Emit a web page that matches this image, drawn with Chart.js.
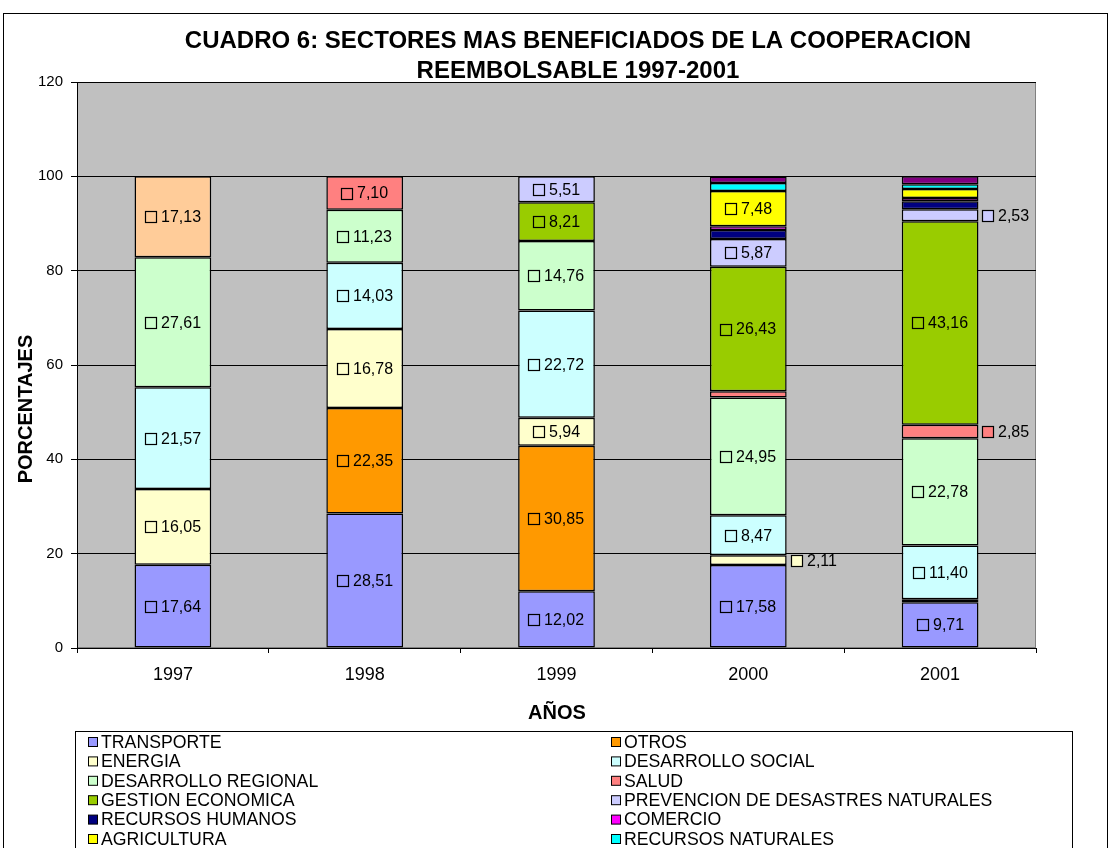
<!DOCTYPE html>
<html>
<head>
<meta charset="utf-8">
<script src="https://cdn.jsdelivr.net/npm/chart.js@4.4.1/dist/chart.umd.min.js"></script>
<style>
html,body{margin:0;padding:0;background:#fff;}
#wrap{width:1110px;height:848px;position:relative;}
</style>
</head>
<body>
<div id="wrap"><canvas id="c" width="1110" height="848"></canvas></div>
<script>
const categories = ['1997', '1998', '1999', '2000', '2001'];
const yTicks = [0, 20, 40, 60, 80, 100, 120];
const titleLines = ['CUADRO 6: SECTORES MAS BENEFICIADOS DE LA COOPERACION', 'REEMBOLSABLE 1997-2001'];
const yTitle = 'PORCENTAJES';
const xTitle = 'AÑOS';

const seriesNames = ['TRANSPORTE', 'OTROS', 'ENERGIA', 'DESARROLLO SOCIAL', 'DESARROLLO REGIONAL', 'SALUD',
  'GESTION ECONOMICA', 'PREVENCION DE DESASTRES NATURALES', 'RECURSOS HUMANOS', 'COMERCIO', 'AGRICULTURA',
  'RECURSOS NATURALES', '', ''];
const transporte = [17.64, 28.51, 12.02, 17.58, 9.71];
const otros = [null, 22.35, 30.85, null, null];
const energia = [16.05, 16.78, 5.94, 2.11, 0.6];
const desarrolloSocial = [21.57, 14.03, 22.72, 8.47, 11.40];
const desarrolloRegional = [27.61, 11.23, 14.76, 24.95, 22.78];
const salud = [null, 7.10, null, 1.3, 2.85];
const gestionEconomica = [null, null, 8.21, 26.43, 43.16];
const prevencion = [null, null, 5.51, 5.87, 2.53];
const recursosHumanos = [null, null, null, 1.9, 1.7];
const comercio = [null, null, null, 0.8, 0.7];
const agricultura = [null, null, null, 7.48, 1.9];
const recursosNaturales = [null, null, null, 1.7, 1.0];
const serieMorada = [null, null, null, 1.4, 1.67];
const serieMelocoton = [17.13, null, null, null, null];

const seriesValues = [transporte, otros, energia, desarrolloSocial, desarrolloRegional, salud, gestionEconomica,
  prevencion, recursosHumanos, comercio, agricultura, recursosNaturales, serieMorada, serieMelocoton];
const seriesColors = ['#9999FF', '#FF9900', '#FFFFCC', '#CCFFFF', '#CCFFCC', '#FF8080', '#99CC00',
  '#CCCCFF', '#000080', '#FF00FF', '#FFFF00', '#00FFFF', '#800080', '#FFCC99'];
const legendCount = 12;

const FONT = "'Liberation Sans', Arial, Helvetica, sans-serif";

const datasets = seriesValues.map((vals, i) => ({
  label: seriesNames[i],
  data: vals,
  backgroundColor: seriesColors[i],
  borderColor: '#000000',
  borderWidth: 1.5,
  borderSkipped: false,
  categoryPercentage: 1.0,
  barPercentage: 0.40,
  stack: 's'
}));

function fmt(v) { return v.toFixed(2).replace('.', ','); }

const framePlugin = {
  id: 'frame',
  beforeDraw(chart) {
    const ctx = chart.ctx;
    const a = chart.chartArea;
    ctx.save();
    ctx.fillStyle = '#ffffff';
    ctx.fillRect(0, 0, chart.width, chart.height);
    ctx.strokeStyle = '#000000';
    ctx.lineWidth = 1;
    ctx.strokeRect(3.5, 13.5, 1104, 900);
    ctx.fillStyle = '#C0C0C0';
    ctx.fillRect(a.left, a.top, a.right - a.left, a.bottom - a.top);
    ctx.strokeStyle = '#808080';
    ctx.strokeRect(a.left + 0.5, a.top + 0.5, a.right - a.left - 1, a.bottom - a.top - 1);
    ctx.restore();
  },
  afterDraw(chart) {
    const ctx = chart.ctx;
    ctx.save();
    ctx.fillStyle = '#000000';
    ctx.font = 'bold 24px ' + FONT;
    ctx.textAlign = 'center';
    ctx.textBaseline = 'middle';
    ctx.fillText(titleLines[0], 578, 41);
    ctx.fillText(titleLines[1], 578, 71);
    ctx.font = 'bold 20px ' + FONT;
    ctx.fillText(xTitle, 557, 713);
    ctx.save();
    ctx.translate(26, 409);
    ctx.rotate(-Math.PI / 2);
    ctx.fillText(yTitle, 0, 0);
    ctx.restore();
    ctx.strokeStyle = '#000000';
    ctx.lineWidth = 1;
    ctx.strokeRect(75.5, 731.5, 997, 200);
    ctx.font = '17.7px ' + FONT;
    ctx.textAlign = 'left';
    const ds = chart.data.datasets;
    for (let i = 0; i < legendCount; i++) {
      const col = i % 2, row = Math.floor(i / 2);
      const sx = col === 0 ? 88 : 611;
      const cy = 742 + row * 19.4;
      ctx.fillStyle = ds[i].backgroundColor;
      ctx.fillRect(sx + 0.5, cy - 4.5, 9, 9);
      ctx.strokeStyle = '#000';
      ctx.strokeRect(sx + 0.5, cy - 4.5, 9, 9);
      ctx.fillStyle = '#000';
      ctx.fillText(ds[i].label, sx + 13, cy + 1);
    }
    ctx.restore();
  },
  afterDatasetsDraw(chart) {
    const ctx = chart.ctx;
    ctx.save();
    ctx.font = '16px ' + FONT;
    ctx.textBaseline = 'middle';
    ctx.textAlign = 'left';
    chart.data.datasets.forEach((d, di) => {
      const meta = chart.getDatasetMeta(di);
      meta.data.forEach((el, j) => {
        const v = d.data[j];
        if (v == null || v < 2) return;
        const p = el.getProps(['x', 'y', 'base', 'width'], true);
        const cy = (p.y + p.base) / 2;
        const txt = fmt(v);
        const tw = ctx.measureText(txt).width;
        const sq = 11, gap = 5;
        const total = sq + gap + tw;
        let sx;
        if (v >= 4) sx = p.x - total / 2;
        else sx = p.x + p.width / 2 + 4;
        sx = Math.round(sx);
        const sy = Math.round(cy - sq / 2);
        ctx.fillStyle = d.backgroundColor;
        ctx.fillRect(sx + 0.5, sy + 0.5, sq, sq);
        ctx.strokeStyle = '#000';
        ctx.lineWidth = 1.2;
        ctx.strokeRect(sx + 0.5, sy + 0.5, sq, sq);
        ctx.fillStyle = '#000';
        ctx.fillText(txt, sx + sq + gap, cy + 1);
      });
    });
    ctx.restore();
  }
};

new Chart(document.getElementById('c'), {
  type: 'bar',
  data: { labels: categories, datasets: datasets },
  options: {
    responsive: false,
    animation: false,
    devicePixelRatio: 1,
    layout: { padding: { left: 0, top: 82, right: 74, bottom: 160 } },
    plugins: { legend: { display: false }, tooltip: { enabled: false }, title: { display: false } },
    scales: {
      x: {
        stacked: true,
        grid: { display: true, drawOnChartArea: false, drawTicks: true, tickLength: 5, offset: true, color: '#000' },
        border: { display: true, color: '#000', width: 1 },
        ticks: { color: '#000', font: { family: FONT, size: 18 }, padding: 11, maxRotation: 0 },
        afterFit(s) { s.height = 40; }
      },
      y: {
        stacked: true,
        min: 0, max: 120,
        afterBuildTicks(s) { s.ticks = yTicks.map(v => ({ value: v })); },
        grid: { color: '#000', drawTicks: true, tickLength: 6, lineWidth: 1 },
        border: { display: true, color: '#000', width: 1 },
        ticks: { color: '#000', font: { family: FONT, size: 15 }, padding: 8 },
        afterFit(s) { s.width = 77; }
      }
    }
  },
  plugins: [framePlugin]
});
</script>
</body>
</html>
